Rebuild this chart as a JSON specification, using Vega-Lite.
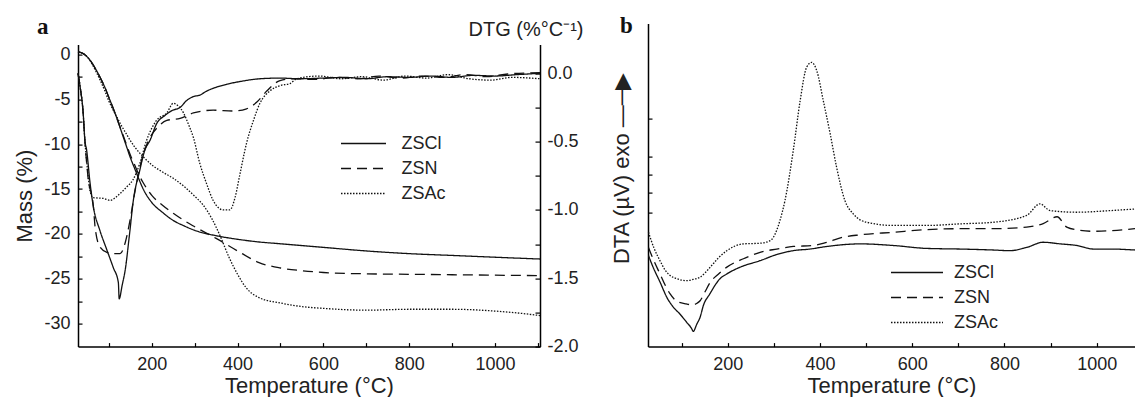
{
"$schema":"https://vega.github.io/schema/vega-lite/v6.json",
"padding":{"left":13,"top":14.6,"right":0,"bottom":0},
"background":"white",
"config":{"view":{"stroke":null},"font":"Liberation Sans",
 "axis":{"grid":false,"domainColor":"#000","domainWidth":1.5,"tickColor":"#000","tickWidth":1.2,"labelColor":"#222","titleColor":"#222","labelFont":"Liberation Sans","titleFont":"Liberation Sans","labelFontSize":18,"titleFontSize":22,"titleFontWeight":"normal","labelOverlap":false,"labelFlush":false},
 "legend":{"labelFont":"Liberation Sans","labelFontSize":18,"labelColor":"#222","padding":0}},
"datasets":{
"tg":[
{"sample":"ZSCl","T":28,"mass":0.3},{"sample":"ZSCl","T":40,"mass":0.1},{"sample":"ZSCl","T":50,"mass":-0.3},{"sample":"ZSCl","T":60,"mass":-0.9},{"sample":"ZSCl","T":70,"mass":-1.7},{"sample":"ZSCl","T":80,"mass":-2.6},{"sample":"ZSCl","T":90,"mass":-3.6},{"sample":"ZSCl","T":100,"mass":-4.8},{"sample":"ZSCl","T":110,"mass":-6.0},{"sample":"ZSCl","T":120,"mass":-7.3},{"sample":"ZSCl","T":130,"mass":-8.7},{"sample":"ZSCl","T":140,"mass":-10.1},{"sample":"ZSCl","T":150,"mass":-11.5},{"sample":"ZSCl","T":160,"mass":-12.7},{"sample":"ZSCl","T":170,"mass":-13.9},{"sample":"ZSCl","T":180,"mass":-15.0},{"sample":"ZSCl","T":200,"mass":-16.5},{"sample":"ZSCl","T":225,"mass":-17.6},{"sample":"ZSCl","T":250,"mass":-18.5},{"sample":"ZSCl","T":275,"mass":-19.1},{"sample":"ZSCl","T":300,"mass":-19.6},{"sample":"ZSCl","T":350,"mass":-20.2},{"sample":"ZSCl","T":400,"mass":-20.6},{"sample":"ZSCl","T":450,"mass":-20.9},{"sample":"ZSCl","T":500,"mass":-21.1},{"sample":"ZSCl","T":600,"mass":-21.5},{"sample":"ZSCl","T":700,"mass":-21.9},{"sample":"ZSCl","T":800,"mass":-22.2},{"sample":"ZSCl","T":900,"mass":-22.4},{"sample":"ZSCl","T":1000,"mass":-22.6},{"sample":"ZSCl","T":1105,"mass":-22.8},
{"sample":"ZSN","T":28,"mass":0.3},{"sample":"ZSN","T":40,"mass":0.1},{"sample":"ZSN","T":50,"mass":-0.3},{"sample":"ZSN","T":60,"mass":-0.9},{"sample":"ZSN","T":70,"mass":-1.7},{"sample":"ZSN","T":80,"mass":-2.6},{"sample":"ZSN","T":90,"mass":-3.6},{"sample":"ZSN","T":100,"mass":-4.8},{"sample":"ZSN","T":110,"mass":-6.0},{"sample":"ZSN","T":120,"mass":-7.3},{"sample":"ZSN","T":130,"mass":-8.6},{"sample":"ZSN","T":140,"mass":-9.9},{"sample":"ZSN","T":150,"mass":-11.2},{"sample":"ZSN","T":160,"mass":-12.3},{"sample":"ZSN","T":170,"mass":-13.4},{"sample":"ZSN","T":180,"mass":-14.3},{"sample":"ZSN","T":200,"mass":-15.7},{"sample":"ZSN","T":225,"mass":-16.8},{"sample":"ZSN","T":250,"mass":-17.7},{"sample":"ZSN","T":275,"mass":-18.5},{"sample":"ZSN","T":300,"mass":-19.2},{"sample":"ZSN","T":350,"mass":-20.5},{"sample":"ZSN","T":400,"mass":-21.9},{"sample":"ZSN","T":450,"mass":-23.2},{"sample":"ZSN","T":500,"mass":-23.8},{"sample":"ZSN","T":550,"mass":-24.1},{"sample":"ZSN","T":600,"mass":-24.3},{"sample":"ZSN","T":700,"mass":-24.45},{"sample":"ZSN","T":800,"mass":-24.5},{"sample":"ZSN","T":900,"mass":-24.55},{"sample":"ZSN","T":1000,"mass":-24.6},{"sample":"ZSN","T":1105,"mass":-24.65},
{"sample":"ZSAc","T":28,"mass":0.3},{"sample":"ZSAc","T":40,"mass":0.1},{"sample":"ZSAc","T":50,"mass":-0.3},{"sample":"ZSAc","T":60,"mass":-1.0},{"sample":"ZSAc","T":70,"mass":-1.9},{"sample":"ZSAc","T":80,"mass":-2.9},{"sample":"ZSAc","T":90,"mass":-4.0},{"sample":"ZSAc","T":100,"mass":-5.2},{"sample":"ZSAc","T":110,"mass":-6.2},{"sample":"ZSAc","T":120,"mass":-7.1},{"sample":"ZSAc","T":130,"mass":-8.0},{"sample":"ZSAc","T":140,"mass":-8.8},{"sample":"ZSAc","T":150,"mass":-9.6},{"sample":"ZSAc","T":160,"mass":-10.3},{"sample":"ZSAc","T":180,"mass":-11.4},{"sample":"ZSAc","T":200,"mass":-12.3},{"sample":"ZSAc","T":225,"mass":-13.1},{"sample":"ZSAc","T":250,"mass":-13.8},{"sample":"ZSAc","T":275,"mass":-14.7},{"sample":"ZSAc","T":300,"mass":-15.8},{"sample":"ZSAc","T":320,"mass":-16.8},{"sample":"ZSAc","T":340,"mass":-18.3},{"sample":"ZSAc","T":360,"mass":-20.3},{"sample":"ZSAc","T":380,"mass":-22.6},{"sample":"ZSAc","T":400,"mass":-24.5},{"sample":"ZSAc","T":420,"mass":-26.0},{"sample":"ZSAc","T":450,"mass":-27.1},{"sample":"ZSAc","T":500,"mass":-27.7},{"sample":"ZSAc","T":550,"mass":-28.1},{"sample":"ZSAc","T":600,"mass":-28.3},{"sample":"ZSAc","T":700,"mass":-28.5},{"sample":"ZSAc","T":800,"mass":-28.4},{"sample":"ZSAc","T":900,"mass":-28.4},{"sample":"ZSAc","T":1000,"mass":-28.6},{"sample":"ZSAc","T":1050,"mass":-28.8},{"sample":"ZSAc","T":1105,"mass":-29.1}
],
"dtg":[
{"sample":"ZSCl","T":28,"dtg":0.0},{"sample":"ZSCl","T":33,"dtg":-0.10},{"sample":"ZSCl","T":40,"dtg":-0.29},{"sample":"ZSCl","T":44,"dtg":-0.49},{"sample":"ZSCl","T":48,"dtg":-0.56},{"sample":"ZSCl","T":56,"dtg":-0.80},{"sample":"ZSCl","T":64,"dtg":-0.98},{"sample":"ZSCl","T":79,"dtg":-1.15},{"sample":"ZSCl","T":95,"dtg":-1.29},{"sample":"ZSCl","T":110,"dtg":-1.42},{"sample":"ZSCl","T":122,"dtg":-1.53},{"sample":"ZSCl","T":124,"dtg":-1.65},{"sample":"ZSCl","T":131,"dtg":-1.55},{"sample":"ZSCl","T":138,"dtg":-1.44},{"sample":"ZSCl","T":148,"dtg":-1.18},{"sample":"ZSCl","T":157,"dtg":-0.93},{"sample":"ZSCl","T":172,"dtg":-0.71},{"sample":"ZSCl","T":184,"dtg":-0.56},{"sample":"ZSCl","T":196,"dtg":-0.49},{"sample":"ZSCl","T":211,"dtg":-0.37},{"sample":"ZSCl","T":230,"dtg":-0.31},{"sample":"ZSCl","T":249,"dtg":-0.27},{"sample":"ZSCl","T":266,"dtg":-0.25},{"sample":"ZSCl","T":281,"dtg":-0.20},{"sample":"ZSCl","T":297,"dtg":-0.17},{"sample":"ZSCl","T":312,"dtg":-0.16},{"sample":"ZSCl","T":328,"dtg":-0.13},{"sample":"ZSCl","T":343,"dtg":-0.11},{"sample":"ZSCl","T":375,"dtg":-0.08},{"sample":"ZSCl","T":406,"dtg":-0.06},{"sample":"ZSCl","T":452,"dtg":-0.04},{"sample":"ZSCl","T":499,"dtg":-0.035},{"sample":"ZSCl","T":545,"dtg":-0.04},{"sample":"ZSCl","T":600,"dtg":-0.035},{"sample":"ZSCl","T":650,"dtg":-0.03},{"sample":"ZSCl","T":700,"dtg":-0.04},{"sample":"ZSCl","T":750,"dtg":-0.025},{"sample":"ZSCl","T":800,"dtg":-0.03},{"sample":"ZSCl","T":850,"dtg":-0.02},{"sample":"ZSCl","T":900,"dtg":-0.03},{"sample":"ZSCl","T":950,"dtg":-0.015},{"sample":"ZSCl","T":1000,"dtg":-0.02},{"sample":"ZSCl","T":1050,"dtg":-0.01},{"sample":"ZSCl","T":1105,"dtg":0.0},
{"sample":"ZSN","T":28,"dtg":0.0},{"sample":"ZSN","T":33,"dtg":-0.10},{"sample":"ZSN","T":40,"dtg":-0.29},{"sample":"ZSN","T":44,"dtg":-0.49},{"sample":"ZSN","T":51,"dtg":-0.75},{"sample":"ZSN","T":64,"dtg":-0.98},{"sample":"ZSN","T":68,"dtg":-1.13},{"sample":"ZSN","T":79,"dtg":-1.27},{"sample":"ZSN","T":95,"dtg":-1.31},{"sample":"ZSN","T":110,"dtg":-1.32},{"sample":"ZSN","T":126,"dtg":-1.32},{"sample":"ZSN","T":138,"dtg":-1.24},{"sample":"ZSN","T":149,"dtg":-1.08},{"sample":"ZSN","T":161,"dtg":-0.86},{"sample":"ZSN","T":176,"dtg":-0.64},{"sample":"ZSN","T":196,"dtg":-0.47},{"sample":"ZSN","T":215,"dtg":-0.39},{"sample":"ZSN","T":235,"dtg":-0.345},{"sample":"ZSN","T":266,"dtg":-0.33},{"sample":"ZSN","T":297,"dtg":-0.29},{"sample":"ZSN","T":343,"dtg":-0.27},{"sample":"ZSN","T":390,"dtg":-0.276},{"sample":"ZSN","T":421,"dtg":-0.26},{"sample":"ZSN","T":445,"dtg":-0.21},{"sample":"ZSN","T":468,"dtg":-0.13},{"sample":"ZSN","T":499,"dtg":-0.053},{"sample":"ZSN","T":530,"dtg":-0.04},{"sample":"ZSN","T":580,"dtg":-0.045},{"sample":"ZSN","T":630,"dtg":-0.03},{"sample":"ZSN","T":680,"dtg":-0.04},{"sample":"ZSN","T":730,"dtg":-0.02},{"sample":"ZSN","T":780,"dtg":-0.035},{"sample":"ZSN","T":830,"dtg":-0.02},{"sample":"ZSN","T":880,"dtg":-0.03},{"sample":"ZSN","T":930,"dtg":-0.01},{"sample":"ZSN","T":980,"dtg":-0.025},{"sample":"ZSN","T":1030,"dtg":-0.005},{"sample":"ZSN","T":1105,"dtg":0.005},
{"sample":"ZSAc","T":28,"dtg":0.0},{"sample":"ZSAc","T":33,"dtg":-0.10},{"sample":"ZSAc","T":40,"dtg":-0.29},{"sample":"ZSAc","T":44,"dtg":-0.49},{"sample":"ZSAc","T":50,"dtg":-0.70},{"sample":"ZSAc","T":56,"dtg":-0.86},{"sample":"ZSAc","T":63,"dtg":-0.91},{"sample":"ZSAc","T":86,"dtg":-0.915},{"sample":"ZSAc","T":103,"dtg":-0.93},{"sample":"ZSAc","T":115,"dtg":-0.91},{"sample":"ZSAc","T":126,"dtg":-0.88},{"sample":"ZSAc","T":142,"dtg":-0.83},{"sample":"ZSAc","T":156,"dtg":-0.78},{"sample":"ZSAc","T":172,"dtg":-0.66},{"sample":"ZSAc","T":188,"dtg":-0.49},{"sample":"ZSAc","T":211,"dtg":-0.345},{"sample":"ZSAc","T":235,"dtg":-0.29},{"sample":"ZSAc","T":250,"dtg":-0.22},{"sample":"ZSAc","T":262,"dtg":-0.24},{"sample":"ZSAc","T":274,"dtg":-0.29},{"sample":"ZSAc","T":285,"dtg":-0.37},{"sample":"ZSAc","T":297,"dtg":-0.47},{"sample":"ZSAc","T":312,"dtg":-0.66},{"sample":"ZSAc","T":328,"dtg":-0.81},{"sample":"ZSAc","T":343,"dtg":-0.93},{"sample":"ZSAc","T":367,"dtg":-1.0},{"sample":"ZSAc","T":382,"dtg":-1.0},{"sample":"ZSAc","T":394,"dtg":-0.91},{"sample":"ZSAc","T":406,"dtg":-0.73},{"sample":"ZSAc","T":421,"dtg":-0.51},{"sample":"ZSAc","T":437,"dtg":-0.345},{"sample":"ZSAc","T":452,"dtg":-0.22},{"sample":"ZSAc","T":475,"dtg":-0.13},{"sample":"ZSAc","T":499,"dtg":-0.09},{"sample":"ZSAc","T":522,"dtg":-0.075},{"sample":"ZSAc","T":538,"dtg":-0.04},{"sample":"ZSAc","T":590,"dtg":-0.02},{"sample":"ZSAc","T":640,"dtg":-0.04},{"sample":"ZSAc","T":690,"dtg":-0.025},{"sample":"ZSAc","T":740,"dtg":-0.05},{"sample":"ZSAc","T":790,"dtg":-0.02},{"sample":"ZSAc","T":840,"dtg":-0.035},{"sample":"ZSAc","T":890,"dtg":-0.01},{"sample":"ZSAc","T":940,"dtg":-0.04},{"sample":"ZSAc","T":990,"dtg":-0.05},{"sample":"ZSAc","T":1040,"dtg":-0.03},{"sample":"ZSAc","T":1105,"dtg":-0.04}
],
"dta":[
{"sample":"ZSCl","T":28,"dta":28.2},{"sample":"ZSCl","T":38,"dta":24.6},{"sample":"ZSCl","T":53,"dta":20.0},{"sample":"ZSCl","T":68,"dta":15.2},{"sample":"ZSCl","T":82,"dta":12.2},{"sample":"ZSCl","T":96,"dta":10.1},{"sample":"ZSCl","T":111,"dta":7.5},{"sample":"ZSCl","T":122,"dta":5.5},{"sample":"ZSCl","T":125,"dta":4.7},{"sample":"ZSCl","T":133,"dta":7.0},{"sample":"ZSCl","T":140,"dta":9.1},{"sample":"ZSCl","T":147,"dta":12.7},{"sample":"ZSCl","T":161,"dta":16.3},{"sample":"ZSCl","T":183,"dta":21.0},{"sample":"ZSCl","T":198,"dta":22.5},{"sample":"ZSCl","T":227,"dta":24.6},{"sample":"ZSCl","T":270,"dta":26.6},{"sample":"ZSCl","T":306,"dta":28.5},{"sample":"ZSCl","T":342,"dta":29.7},{"sample":"ZSCl","T":378,"dta":30.2},{"sample":"ZSCl","T":415,"dta":31.0},{"sample":"ZSCl","T":487,"dta":31.8},{"sample":"ZSCl","T":559,"dta":31.3},{"sample":"ZSCl","T":631,"dta":30.4},{"sample":"ZSCl","T":704,"dta":30.2},{"sample":"ZSCl","T":776,"dta":29.9},{"sample":"ZSCl","T":812,"dta":29.7},{"sample":"ZSCl","T":848,"dta":30.7},{"sample":"ZSCl","T":884,"dta":32.3},{"sample":"ZSCl","T":921,"dta":31.8},{"sample":"ZSCl","T":957,"dta":31.3},{"sample":"ZSCl","T":993,"dta":30.2},{"sample":"ZSCl","T":1029,"dta":30.2},{"sample":"ZSCl","T":1083,"dta":29.9},
{"sample":"ZSN","T":28,"dta":30.7},{"sample":"ZSN","T":40,"dta":26.5},{"sample":"ZSN","T":53,"dta":22.5},{"sample":"ZSN","T":65,"dta":18.8},{"sample":"ZSN","T":75,"dta":16.3},{"sample":"ZSN","T":90,"dta":14.0},{"sample":"ZSN","T":110,"dta":13.2},{"sample":"ZSN","T":125,"dta":12.9},{"sample":"ZSN","T":133,"dta":13.4},{"sample":"ZSN","T":140,"dta":14.2},{"sample":"ZSN","T":150,"dta":16.8},{"sample":"ZSN","T":162,"dta":19.9},{"sample":"ZSN","T":180,"dta":22.5},{"sample":"ZSN","T":198,"dta":24.6},{"sample":"ZSN","T":234,"dta":27.2},{"sample":"ZSN","T":270,"dta":29.2},{"sample":"ZSN","T":306,"dta":30.2},{"sample":"ZSN","T":342,"dta":31.0},{"sample":"ZSN","T":385,"dta":31.3},{"sample":"ZSN","T":415,"dta":32.3},{"sample":"ZSN","T":451,"dta":33.9},{"sample":"ZSN","T":487,"dta":34.6},{"sample":"ZSN","T":559,"dta":35.4},{"sample":"ZSN","T":631,"dta":36.2},{"sample":"ZSN","T":704,"dta":36.5},{"sample":"ZSN","T":776,"dta":36.5},{"sample":"ZSN","T":848,"dta":37.0},{"sample":"ZSN","T":884,"dta":38.1},{"sample":"ZSN","T":914,"dta":40.2},{"sample":"ZSN","T":935,"dta":37.0},{"sample":"ZSN","T":964,"dta":36.0},{"sample":"ZSN","T":993,"dta":35.7},{"sample":"ZSN","T":1083,"dta":36.5},
{"sample":"ZSAc","T":28,"dta":35.4},{"sample":"ZSAc","T":40,"dta":30.5},{"sample":"ZSAc","T":53,"dta":26.6},{"sample":"ZSAc","T":65,"dta":23.5},{"sample":"ZSAc","T":75,"dta":22.0},{"sample":"ZSAc","T":90,"dta":21.0},{"sample":"ZSAc","T":111,"dta":20.4},{"sample":"ZSAc","T":125,"dta":20.8},{"sample":"ZSAc","T":140,"dta":21.5},{"sample":"ZSAc","T":162,"dta":24.6},{"sample":"ZSAc","T":180,"dta":27.5},{"sample":"ZSAc","T":198,"dta":29.7},{"sample":"ZSAc","T":234,"dta":31.8},{"sample":"ZSAc","T":270,"dta":32.0},{"sample":"ZSAc","T":292,"dta":32.8},{"sample":"ZSAc","T":306,"dta":36.0},{"sample":"ZSAc","T":313,"dta":39.0},{"sample":"ZSAc","T":324,"dta":45.2},{"sample":"ZSAc","T":342,"dta":60.7},{"sample":"ZSAc","T":357,"dta":76.2},{"sample":"ZSAc","T":371,"dta":86.5},{"sample":"ZSAc","T":382,"dta":88.0},{"sample":"ZSAc","T":393,"dta":85.4},{"sample":"ZSAc","T":407,"dta":76.2},{"sample":"ZSAc","T":422,"dta":65.9},{"sample":"ZSAc","T":436,"dta":55.5},{"sample":"ZSAc","T":454,"dta":45.2},{"sample":"ZSAc","T":472,"dta":41.1},{"sample":"ZSAc","T":501,"dta":38.5},{"sample":"ZSAc","T":559,"dta":37.5},{"sample":"ZSAc","T":631,"dta":37.5},{"sample":"ZSAc","T":704,"dta":38.0},{"sample":"ZSAc","T":776,"dta":38.5},{"sample":"ZSAc","T":848,"dta":40.6},{"sample":"ZSAc","T":877,"dta":44.2},{"sample":"ZSAc","T":899,"dta":42.1},{"sample":"ZSAc","T":957,"dta":41.6},{"sample":"ZSAc","T":1029,"dta":42.1},{"sample":"ZSAc","T":1083,"dta":42.6}
]},
"bounds":"flush",
"spacing":108,
"resolve":{"scale":{"strokeDash":"independent"},"legend":{"strokeDash":"independent"}},
"hconcat":[
{"width":462,"height":323,
 "title":{"text":"a","anchor":"start","frame":"group","font":"Liberation Serif","fontSize":23,"fontWeight":"bold","color":"#111","dx":-41,"dy":37,"offset":0,"baseline":"alphabetic"},
 "resolve":{"scale":{"y":"independent"}},
 "layer":[
  {"data":{"name":"tg"},
   "mark":{"type":"line","strokeWidth":1.3,"color":"#111","interpolate":"monotone"},
   "encoding":{
    "x":{"field":"T","type":"quantitative","scale":{"domain":[28,1105],"nice":false,"zero":false},
     "axis":{"values":[100,200,300,400,500,600,700,800,900,1000,1100],"format":"d","labelExpr":"datum.value % 200 == 0 ? datum.label : ''","tickSize":-4,"labelPadding":13,"title":"Temperature (°C)","titlePadding":2}},
    "y":{"field":"mass","type":"quantitative","scale":{"domain":[-32.56,1.1],"nice":false,"zero":false,"range":[323,21]},
     "axis":{"values":[-30,-27.5,-25,-22.5,-20,-17.5,-15,-12.5,-10,-7.5,-5,-2.5,0],"labelExpr":"datum.value % 5 == 0 ? toString(datum.value) : ''","tickSize":-4,"labelPadding":12,"title":"Mass (%)","titleAngle":270,"titleAlign":"center","titleBaseline":"alphabetic","titleX":-47,"titleY":172}},
    "strokeDash":{"field":"sample","type":"nominal","scale":{"domain":["ZSCl","ZSN","ZSAc"],"range":[[1,0],[10,6],[1.5,1.5]]},
     "legend":{"title":null,"orient":"none","legendX":276.5,"legendY":111,"symbolType":"M-4.5,0H4.5","symbolSize":100,"symbolStrokeColor":"#111","symbolStrokeWidth":1.5,"labelOffset":29,"rowPadding":7}}
   }},
  {"data":{"name":"dtg"},
   "mark":{"type":"line","strokeWidth":1.3,"color":"#111","interpolate":"monotone"},
   "encoding":{
    "x":{"field":"T","type":"quantitative"},
    "y":{"field":"dtg","type":"quantitative","scale":{"domain":[-2.0,0.21],"nice":false,"zero":false,"range":[323,21]},
     "axis":{"orient":"right","values":[-2,-1.75,-1.5,-1.25,-1,-0.75,-0.5,-0.25,0],"labelExpr":"(datum.value*2) % 1 == 0 ? replace(format(datum.value,'.1f'),'−','-') : ''","tickSize":-5,"labelPadding":12,"title":"DTG (%°C⁻¹)","titleAngle":0,"titleAlign":"right","titleBaseline":"alphabetic","titleX":43,"titleY":12,"titleFontSize":20}},
    "strokeDash":{"field":"sample","type":"nominal","scale":{"domain":["ZSCl","ZSN","ZSAc"],"range":[[1,0],[10,6],[1.5,1.5]]}}
   }}
 ]},
{"width":487,"height":323,
 "title":{"text":"b","anchor":"start","frame":"group","font":"Liberation Serif","fontSize":23,"fontWeight":"bold","color":"#111","dx":-28,"dy":32,"offset":0,"baseline":"alphabetic"},
 "data":{"name":"dta"},
 "mark":{"type":"line","strokeWidth":1.3,"color":"#111","interpolate":"monotone"},
 "encoding":{
  "x":{"field":"T","type":"quantitative","scale":{"domain":[27,1083],"nice":false,"zero":false},
   "axis":{"values":[100,200,300,400,500,600,700,800,900,1000],"format":"d","labelExpr":"datum.value % 200 == 0 ? datum.label : ''","tickSize":-4,"labelPadding":13,"title":"Temperature (°C)","titlePadding":2}},
  "y":{"field":"dta","type":"quantitative","scale":{"domain":[0,100],"nice":false,"zero":false},
   "axis":{"values":[41.6,47.8,53.25,58.9,70.5],"labels":false,"tickSize":-4,"title":"DTA (µV)  exo —─▶","titleAngle":270,"titleAlign":"left","titleBaseline":"alphabetic","titleX":-19,"titleY":240}},
  "strokeDash":{"field":"sample","type":"nominal","scale":{"domain":["ZSCl","ZSN","ZSAc"],"range":[[1,0],[10,6],[1.5,1.5]]},
   "legend":{"title":null,"orient":"none","legendX":260,"legendY":240,"symbolType":"M-5.2,0H5.2","symbolSize":100,"symbolStrokeColor":"#111","symbolStrokeWidth":1.5,"labelOffset":28,"rowPadding":7}}
 }}
]}
